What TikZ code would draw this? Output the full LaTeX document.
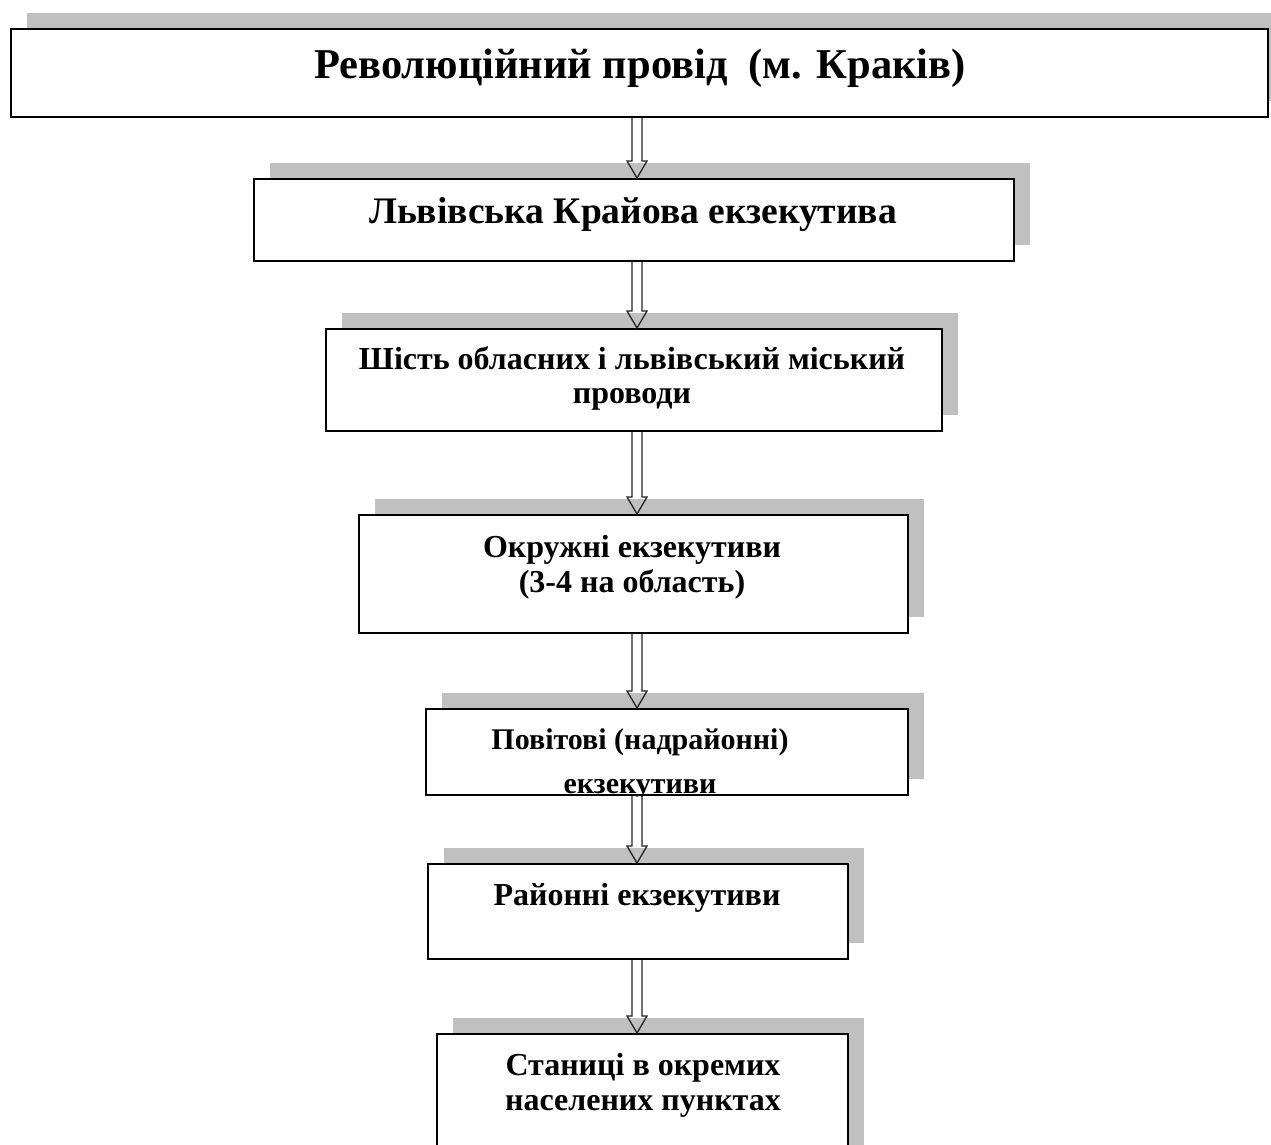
\documentclass[tikz,border=0pt]{standalone}
\usepackage{fontspec}
\setmainfont{Liberation Serif}
\usetikzlibrary{shadows,calc}
\definecolor{shadowgray}{RGB}{192,192,192}
\definecolor{arrowgray}{RGB}{35,35,35}
\tikzset{
  box/.style={draw, line width=2pt, fill=white, inner sep=0pt, anchor=north west,
    general shadow={fill=shadowgray, shadow xshift=16pt, shadow yshift=16pt}},
  lbl/.style={font=\bfseries, align=center, inner sep=0pt, anchor=base},
  blockarrow/.style={draw=arrowgray, line width=1.3pt, line join=miter},
}
\begin{document}
\begin{tikzpicture}[x=1pt,y=-1pt]
    \useasboundingbox (0,0) rectangle (1271,1145);
%    boxes, top left corner at the given point
    \node[box, minimum width=1257, minimum height=88]  (provid)   at (10,28)   {};
    \node[box, minimum width=760,  minimum height=82]  (kraj)     at (253,178) {};
    \node[box, minimum width=616,  minimum height=102] (oblast)   at (325,328) {};
    \node[box, minimum width=549,  minimum height=118] (okruh)    at (358,514) {};
    \node[box, minimum width=482,  minimum height=86]  (povit)    at (425,708) {};
    \node[box, minimum width=420,  minimum height=95]  (rajon)    at (427,863) {};
    \node[box, minimum width=411,  minimum height=130] (stanyci)  at (436,1033) {};

%    texts, base = last line
    \node[lbl, font=\bfseries\fontsize{42.5}{46}\selectfont] (t-provid) at (640,79)
        {Революційний провід\ \ (м. Краків)};
    \node[lbl, font=\bfseries\fontsize{37.5}{40}\selectfont] (t-kraj) at (633,223)
        {Львівська Крайова екзекутива};
    \node[lbl, font=\bfseries\fontsize{32}{34}\selectfont] (t-oblast) at (632,403)
        {Шість обласних і львівський міський\\проводи};
    \node[lbl, font=\bfseries\fontsize{32}{35}\selectfont] (t-okruh) at (632,592)
        {Окружні екзекутиви\\(3-4 на область)};
    \begin{scope}
    \clip (povit.north west) rectangle (povit.south east);
    \node[lbl, font=\bfseries\fontsize{30}{44}\selectfont] (t-povit) at (640,793)
        {Повітові (надрайонні)\\екзекутиви};
    \end{scope}
    \node[lbl, font=\bfseries\fontsize{32}{35}\selectfont] (t-rajon) at (637,905)
        {Районні екзекутиви};
    \node[lbl, font=\bfseries\fontsize{32}{35}\selectfont] (t-stanyci) at (643,1110)
        {Станиці в окремих\\населених пунктах};

    \coordinate (ax) at (637,0);
    \foreach \a/\b in {provid/kraj, kraj/oblast, oblast/okruh, okruh/povit, povit/rajon, rajon/stanyci}
        \draw[blockarrow] ($(\a.south -| ax)+(-5,0)$) |- ($(\b.north -| ax)+(-10,-17)$)
            -- (\b.north -| ax) -- ++(10,-17) -| ($(\a.south -| ax)+(5,0)$);
\end{tikzpicture}
\end{document}
